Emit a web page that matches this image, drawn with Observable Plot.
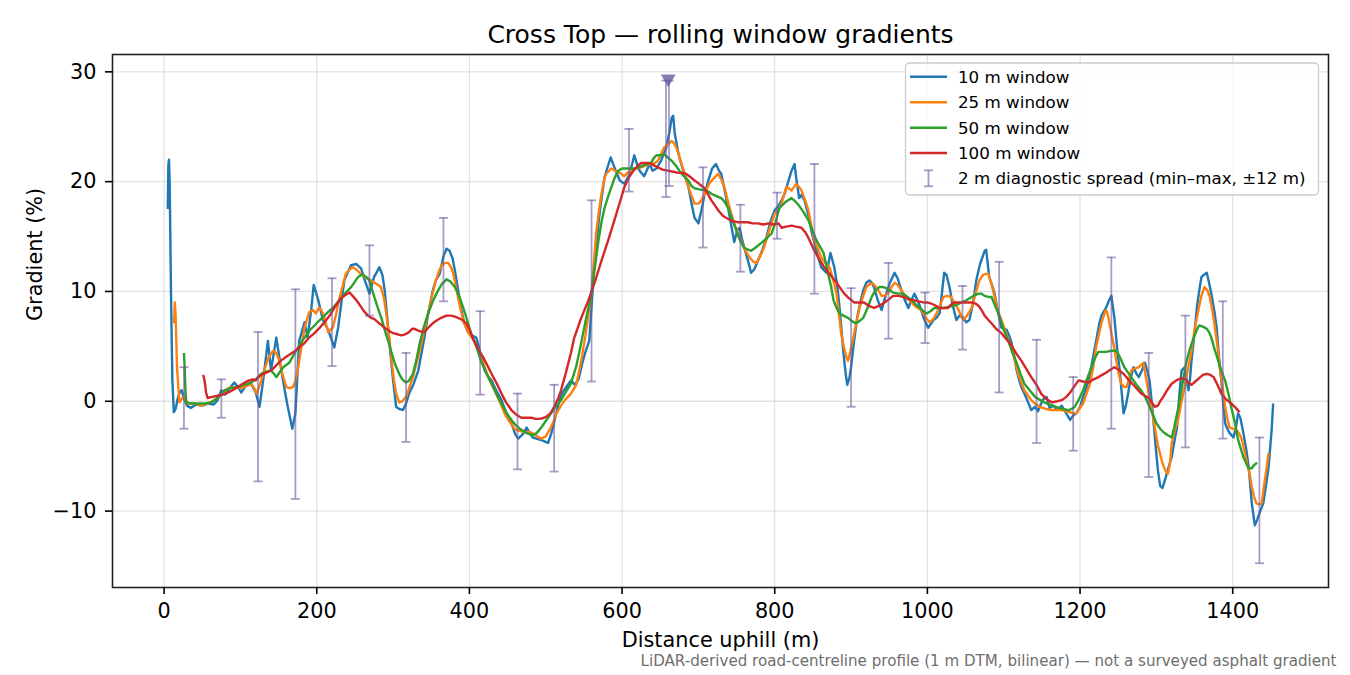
<!DOCTYPE html>
<html>
<head>
<meta charset="utf-8">
<script src="https://cdn.jsdelivr.net/npm/d3@7"></script>
<script src="https://cdn.jsdelivr.net/npm/@observablehq/plot@0.6"></script>
<style>
  html, body { margin: 0; padding: 0; background: white; }
  #chart svg { display: block; }
</style>
</head>
<body>
<div id="chart"></div>
<script>
// ---- data: [distance (m), gradient (%)] ----
const win10 = [[4.8,17.5],[5.6,21.5],[6.4,22.0],[7.4,19.5],[9,10],[10.8,2],[12.7,-1.0],[15,-0.7],[18,0.3],[21,0.9],[23,1.0],[26,0.3],[30,-0.4],[35,-0.6],[42,-0.3],[50,-0.4],[58,-0.2],[65,-0.3],[70,0.1],[75,1.0],[80,0.6],[86,1.2],[92,1.7],[97,1.3],[101,0.8],[107,1.4],[114,1.6],[120,0.8],[125,-0.5],[130,2.0],[136,5.5],[140,2.8],[147,5.8],[153,3.1],[158,1.0],[162,-0.5],[168,-2.5],[172,-1.1],[177,5.5],[184,7.2],[188,5.8],[193,8.5],[196,10.6],[202,9.2],[208,7.4],[215,6.5],[220,5.5],[223,4.9],[228,6.7],[236,11.0],[245,12.4],[252,12.5],[258,12.1],[263,11.0],[269,9.8],[275,11.3],[282,12.2],[286,11.5],[289,10.1],[293,7.1],[297,4.0],[300,1.9],[304,-0.5],[308,-0.7],[313,-0.8],[317,-0.2],[321,0.7],[327,1.6],[333,2.8],[341,5.8],[346,8.0],[352,10.1],[356,11.0],[361,11.6],[366,13.2],[370,13.9],[374,13.7],[378,13.0],[381,11.9],[385,10.2],[389,8.5],[393,7.2],[398,6.3],[403,6.0],[409,5.8],[414,4.5],[420,2.8],[425,2.2],[429,1.9],[435,1.0],[442,0.1],[448,-1.0],[455,-2.0],[460,-3.0],[464,-3.4],[470,-3.0],[475,-2.4],[479,-2.9],[483,-3.3],[488,-3.4],[492,-3.5],[497,-3.6],[503,-3.8],[507,-3.0],[510,-2.2],[514,-1.0],[518,0.1],[522,0.8],[527,1.3],[533,1.9],[538,1.5],[543,2.0],[548,3.5],[552,4.5],[557,5.5],[564,12.8],[571,17.4],[577,20.4],[585,22.2],[590,21.3],[597,20.1],[603,19.8],[610,20.7],[616,22.4],[620,21.5],[623,21.0],[629,20.5],[636,21.6],[640,21.0],[645,21.2],[651,21.9],[658,23.1],[662,24.5],[665,25.8],[667,26.0],[669,24.4],[674,22.5],[680,21.0],[687,19.5],[691,18.0],[695,16.7],[700,16.2],[704,17.4],[708,18.8],[713,20.1],[718,21.2],[723,21.6],[727,21.0],[730,20.7],[735,19.0],[739,17.6],[743,16.0],[747,14.5],[751,15.6],[754,15.8],[757,14.8],[760,14.0],[765,12.8],[769,11.7],[773,12.0],[778,12.8],[784,13.8],[789,14.9],[795,16.5],[800,17.4],[805,17.8],[809,18.3],[813,18.9],[819,20.3],[822,21.0],[826,21.6],[828,20.4],[832,18.5],[835,18.8],[839,18.3],[845,16.7],[848,15.5],[852,14.4],[856,13.3],[861,12.2],[868,11.7],[873,13.5],[875,13.0],[878,12.2],[882,10.5],[885,8.5],[890,4.4],[893,2.5],[895,1.5],[898,2.2],[900,3.1],[904,5.5],[908,7.6],[912,9.0],[916,10.1],[920,10.8],[924,11.0],[927,10.8],[930,10.4],[935,9.2],[940,8.3],[946,9.8],[951,10.8],[957,11.7],[961,11.2],[966,10.1],[970,9.3],[975,8.5],[979,9.2],[983,9.8],[987,9.2],[990,8.7],[995,7.6],[1001,6.7],[1008,7.4],[1012,7.6],[1016,8.0],[1019,9.8],[1022,11.7],[1025,11.5],[1029,10.4],[1033,8.8],[1038,7.4],[1042,7.8],[1047,7.6],[1051,7.2],[1055,7.4],[1060,9.0],[1064,11.0],[1069,12.5],[1075,13.7],[1077,13.8],[1081,11.3],[1085,10.5],[1088,9.8],[1093,8.0],[1097,6.7],[1104,6.5],[1107,6.0],[1110,5.4],[1114,4.0],[1117,2.8],[1120,2.0],[1123,1.3],[1127,0.7],[1132,-0.1],[1136,-0.8],[1141,-0.5],[1145,-0.9],[1149,-0.2],[1152,0.2],[1156,0.4],[1160,-0.6],[1165,-0.4],[1170,-0.8],[1176,-0.4],[1181,-1.0],[1187,-1.7],[1191,-1.3],[1195,-1.1],[1200,-0.5],[1204,0.4],[1209,1.4],[1213,2.5],[1217,4.0],[1221,5.5],[1225,7.0],[1228,7.8],[1234,8.5],[1238,9.2],[1241,9.6],[1245,7.6],[1249,4.5],[1252,2.8],[1257,-1.1],[1260,-0.4],[1263,0.7],[1266,2.0],[1270,3.1],[1274,2.5],[1277,2.2],[1281,2.8],[1285,3.5],[1288,2.8],[1291,1.9],[1295,-0.8],[1298,-3.3],[1302,-6.3],[1305,-7.7],[1308,-7.9],[1312,-7.0],[1316,-6.0],[1320,-5.1],[1324,-3.5],[1327,-2.4],[1330,0.5],[1333,2.8],[1337,3.1],[1340,1.8],[1342,1.0],[1344,2.0],[1346,3.7],[1350,6.2],[1353,8.5],[1356,10.0],[1359,11.3],[1362,11.5],[1366,11.7],[1369,10.8],[1372,9.8],[1376,8.2],[1379,6.7],[1382,4.0],[1385,1.9],[1388,-0.5],[1390,-2.0],[1393,-2.5],[1396,-2.9],[1401,-3.3],[1404,-2.5],[1407,-1.1],[1410,-1.5],[1414,-2.9],[1418,-4.5],[1421,-6.0],[1425,-9.3],[1429,-11.3],[1432,-10.8],[1435,-10.2],[1440,-9.3],[1444,-7.5],[1447,-6.0],[1451,-2.6],[1453,-0.2]];

const win25 = [[13,7.1],[14,9.0],[15,8.0],[17,3],[20,-0.1],[25,0.4],[31,-0.2],[40,-0.2],[48,-0.4],[57,-0.2],[66,0.1],[75,0.6],[84,1.2],[92,1.3],[101,1.2],[108,1.4],[114,1.6],[118,1.2],[121,0.7],[126,1.6],[131,2.8],[137,4.0],[143,4.6],[147,4.4],[151,3.7],[155,2.5],[160,1.3],[165,1.2],[169,1.3],[172,1.8],[175,2.8],[180,5.0],[184,6.7],[190,8.1],[195,8.3],[199,8.0],[203,8.5],[206,8.3],[210,7.6],[215,6.3],[221,6.7],[225,7.8],[229,9.2],[234,10.5],[238,11.6],[243,12.0],[247,12.2],[252,12.0],[256,11.7],[261,11.4],[266,11.2],[271,11.0],[278,10.7],[284,10.4],[288,9.4],[291,8.0],[295,5.8],[298,3.7],[301,2.0],[304,0.7],[308,-0.1],[312,0.0],[317,0.4],[321,1.2],[326,2.2],[330,3.3],[335,4.6],[340,6.2],[346,8.0],[351,9.6],[356,11.0],[361,12.0],[365,12.5],[369,12.6],[372,12.6],[376,12.2],[379,11.6],[382,10.6],[385,9.5],[389,8.2],[393,7.1],[399,6.2],[406,5.5],[413,4.4],[420,3.1],[426,2.0],[433,1.0],[440,-0.1],[446,-1.1],[452,-1.8],[459,-2.5],[465,-2.7],[472,-2.8],[478,-2.8],[483,-2.9],[489,-3.2],[494,-3.4],[500,-3.2],[505,-2.6],[510,-1.9],[514,-1.1],[520,-0.4],[525,0.1],[533,0.7],[540,1.5],[546,3.5],[552,6.0],[556,8.0],[560,9.8],[563,12.5],[566,15.3],[570,17.5],[573,18.9],[576,20.0],[579,20.7],[586,21.2],[591,21.0],[597,20.8],[603,20.5],[607,20.8],[612,21.0],[618,21.2],[625,21.3],[632,21.5],[638,21.6],[643,21.7],[647,21.9],[651,22.5],[655,23.1],[660,23.4],[665,23.7],[668,23.5],[671,23.1],[675,22.3],[678,21.6],[683,20.5],[687,19.5],[691,18.7],[695,18.0],[700,18.0],[704,18.3],[709,19.0],[714,19.8],[720,20.3],[726,20.7],[730,20.2],[734,19.5],[738,18.4],[743,17.1],[749,15.8],[756,14.6],[761,13.8],[767,13.1],[772,12.7],[776,12.6],[781,13.2],[786,14.0],[793,15.6],[800,17.1],[805,17.4],[809,18.0],[815,19.5],[818,19.4],[822,19.2],[825,19.5],[828,19.8],[832,19.5],[835,19.2],[840,18.3],[844,17.4],[848,16.0],[852,14.6],[857,13.8],[861,13.1],[866,12.6],[872,12.2],[876,11.2],[881,9.8],[884,8.0],[887,6.2],[891,4.8],[894,4.0],[896,3.7],[899,4.5],[903,5.8],[907,7.2],[911,8.5],[916,9.6],[920,10.4],[925,10.7],[929,10.7],[935,10.2],[940,9.6],[944,9.6],[949,9.9],[953,10.4],[957,10.8],[961,10.6],[966,10.1],[972,9.5],[979,9.0],[985,8.6],[992,8.3],[998,7.6],[1003,7.2],[1008,7.5],[1012,8.0],[1017,8.8],[1021,9.5],[1026,9.6],[1031,9.5],[1036,8.9],[1041,8.3],[1047,7.4],[1052,7.8],[1058,8.5],[1063,9.8],[1068,11.0],[1073,11.5],[1077,11.6],[1080,11.6],[1084,10.7],[1088,9.5],[1092,8.3],[1097,7.4],[1103,6.2],[1110,4.9],[1115,3.6],[1119,2.5],[1123,1.7],[1127,1.0],[1132,0.5],[1136,0.1],[1141,-0.2],[1147,-0.5],[1155,-0.7],[1163,-0.8],[1170,-0.8],[1176,-0.8],[1182,-0.9],[1187,-1.0],[1191,-1.1],[1195,-1.1],[1199,-0.7],[1204,-0.2],[1208,0.6],[1213,1.6],[1217,3.0],[1221,4.9],[1225,6.2],[1228,7.1],[1231,7.8],[1234,8.3],[1236,8.0],[1238,7.3],[1241,6.2],[1245,4.8],[1248,3.5],[1251,2.4],[1254,1.6],[1258,1.3],[1261,1.3],[1264,2.0],[1267,2.8],[1272,3.0],[1277,3.1],[1280,3.3],[1283,3.5],[1286,2.3],[1290,0.7],[1294,-0.8],[1298,-2.4],[1302,-4.0],[1307,-5.4],[1310,-6.0],[1313,-6.5],[1315,-6.6],[1318,-5.6],[1320,-3.8],[1324,-2.7],[1329,-1.5],[1333,0.0],[1337,1.3],[1341,2.8],[1346,4.6],[1350,6.5],[1355,8.3],[1359,9.6],[1363,10.4],[1367,10.1],[1370,9.5],[1373,8.4],[1376,7.1],[1380,5.0],[1383,3.1],[1387,1.2],[1390,-0.5],[1393,-1.6],[1396,-2.4],[1400,-2.5],[1405,-2.6],[1409,-3.0],[1412,-3.5],[1415,-4.4],[1418,-5.4],[1422,-6.6],[1425,-7.8],[1428,-8.7],[1431,-9.3],[1435,-9.4],[1438,-9.3],[1442,-7.2],[1445,-5.8],[1447,-4.7]];

const win50 = [[26,4.4],[27,3.0],[28,1.0],[29,-0.1],[35,-0.2],[44,-0.2],[53,-0.2],[62,-0.1],[70,0.3],[79,1.0],[88,1.2],[97,1.3],[105,1.5],[114,1.7],[120,2.0],[127,2.5],[134,2.7],[140,2.8],[144,2.5],[147,2.2],[151,2.6],[156,3.1],[160,3.3],[164,3.5],[168,4.0],[173,4.6],[179,5.3],[184,5.8],[190,6.4],[197,6.9],[204,7.4],[210,7.8],[216,8.2],[221,8.5],[227,9.0],[232,9.4],[238,9.9],[245,10.4],[250,10.9],[254,11.3],[258,11.5],[261,11.5],[265,11.3],[269,11.0],[274,9.8],[280,8.5],[285,7.5],[289,6.5],[294,5.4],[298,4.4],[303,3.3],[308,2.5],[312,2.0],[317,1.7],[321,1.9],[326,2.5],[330,3.6],[335,5.3],[340,6.7],[346,8.0],[352,9.1],[359,10.1],[364,10.7],[370,11.1],[375,10.9],[381,10.4],[387,9.5],[392,8.5],[397,7.4],[402,6.2],[409,5.0],[415,3.7],[422,2.6],[429,1.6],[435,0.7],[442,-0.2],[448,-1.0],[455,-1.7],[461,-2.2],[468,-2.6],[475,-2.9],[483,-3.1],[488,-2.9],[494,-2.4],[500,-1.8],[507,-1.1],[513,-0.5],[520,0.1],[526,0.8],[533,1.6],[540,3.2],[547,5.5],[553,7.6],[560,9.8],[564,12.0],[569,14.6],[573,16.3],[577,17.6],[582,18.7],[586,19.5],[590,20.3],[595,21.0],[600,21.2],[606,21.2],[611,21.2],[616,21.2],[622,21.3],[629,21.5],[634,21.6],[638,21.7],[641,22.1],[645,22.4],[650,22.4],[655,22.5],[660,22.2],[665,21.9],[670,21.5],[675,21.0],[681,20.5],[687,20.1],[691,19.6],[695,19.4],[701,19.3],[708,19.2],[713,19.1],[717,18.9],[723,18.7],[730,18.5],[734,18.2],[739,17.6],[744,16.6],[750,15.5],[755,14.6],[760,14.0],[765,13.8],[769,13.7],[775,14.0],[782,14.4],[789,14.8],[796,15.3],[801,16.3],[806,17.6],[809,17.8],[815,18.2],[822,18.5],[827,18.2],[832,17.8],[838,17.2],[844,16.5],[849,15.6],[855,14.6],[860,14.0],[864,13.5],[867,12.6],[870,11.6],[874,10.4],[877,9.2],[881,8.5],[885,8.0],[890,7.8],[896,7.6],[901,7.3],[906,7.1],[911,7.3],[916,7.6],[921,8.4],[927,9.5],[932,10.1],[937,10.4],[942,10.4],[946,10.3],[951,10.1],[955,9.9],[962,9.8],[968,9.8],[974,9.5],[979,9.2],[985,8.8],[990,8.5],[995,8.2],[999,8.0],[1004,8.2],[1009,8.5],[1015,8.5],[1022,8.5],[1028,8.6],[1034,8.7],[1039,8.8],[1044,9.0],[1051,9.2],[1058,9.5],[1063,9.7],[1068,9.8],[1071,9.8],[1075,9.6],[1080,9.5],[1084,9.5],[1090,8.5],[1095,7.6],[1100,6.5],[1106,5.5],[1111,4.5],[1117,3.5],[1122,2.5],[1127,1.6],[1134,1.0],[1141,0.4],[1148,0.1],[1156,-0.2],[1164,-0.4],[1172,-0.6],[1178,-0.7],[1185,-0.8],[1189,-0.7],[1193,-0.5],[1198,0.1],[1204,1.0],[1209,2.0],[1215,3.1],[1220,4.0],[1224,4.5],[1229,4.5],[1234,4.5],[1241,4.6],[1248,4.6],[1253,3.9],[1258,3.1],[1264,2.5],[1270,1.9],[1275,1.4],[1280,1.0],[1286,0.3],[1291,-0.5],[1296,-1.3],[1300,-2.0],[1305,-2.5],[1309,-2.8],[1315,-3.1],[1320,-3.3],[1323,-2.5],[1326,-1.5],[1329,-0.5],[1334,1.5],[1339,3.5],[1344,4.8],[1349,5.8],[1353,6.5],[1356,6.9],[1361,6.8],[1366,6.6],[1369,6.3],[1372,5.8],[1376,4.8],[1381,3.7],[1385,2.8],[1390,1.9],[1394,0.8],[1398,-0.5],[1403,-2.0],[1407,-3.5],[1411,-4.4],[1414,-5.1],[1418,-5.7],[1421,-6.1],[1425,-6.1],[1428,-5.8],[1432,-5.6]];

const win100 = [[51,2.4],[52,2.2],[53,1.9],[55,0.8],[57,0.3],[63,0.4],[70,0.5],[77,0.6],[84,0.8],[92,1.1],[101,1.5],[108,1.8],[116,2.0],[120,1.9],[124,2.2],[127,2.4],[134,2.6],[140,2.8],[146,3.2],[153,3.7],[161,4.1],[170,4.5],[177,4.9],[184,5.3],[190,5.8],[197,6.2],[204,6.7],[210,7.2],[217,7.8],[223,8.5],[228,9.0],[232,9.4],[238,9.7],[243,9.9],[247,9.6],[252,9.2],[258,8.6],[262,8.2],[267,7.8],[271,7.6],[275,7.5],[282,7.1],[289,6.7],[295,6.4],[300,6.2],[306,6.1],[311,6.0],[316,6.1],[321,6.3],[325,6.6],[328,6.6],[334,6.4],[341,6.3],[346,6.7],[352,7.1],[358,7.4],[363,7.6],[370,7.8],[376,7.8],[381,7.7],[385,7.6],[391,7.4],[396,7.1],[401,6.4],[406,5.5],[412,4.7],[418,4.0],[424,3.2],[429,2.5],[436,1.6],[442,0.7],[448,-0.1],[455,-0.8],[461,-1.2],[468,-1.5],[475,-1.5],[481,-1.5],[487,-1.6],[492,-1.6],[498,-1.5],[503,-1.3],[507,-1.0],[511,-0.5],[516,0.2],[520,1.0],[526,2.5],[533,4.4],[537,5.7],[546,7.5],[556,9.2],[565,11.0],[573,12.8],[582,14.7],[590,16.5],[597,18.1],[603,19.5],[609,20.4],[615,21.0],[620,21.4],[625,21.7],[630,21.7],[636,21.7],[641,21.5],[647,21.3],[653,21.1],[660,21.0],[667,20.9],[674,20.8],[680,20.8],[684,20.7],[690,20.4],[695,20.1],[701,19.8],[708,19.4],[713,18.8],[717,18.3],[722,17.8],[726,17.4],[732,16.9],[739,16.6],[745,16.4],[752,16.3],[758,16.3],[765,16.3],[771,16.2],[778,16.2],[785,16.1],[792,16.2],[798,16.1],[805,16.2],[809,15.8],[815,15.9],[822,16.0],[828,15.9],[835,15.8],[840,15.4],[844,14.9],[848,14.3],[852,13.7],[858,13.0],[865,12.2],[872,11.6],[881,10.8],[886,10.3],[891,9.8],[897,9.4],[904,9.0],[910,9.0],[917,9.0],[923,8.7],[930,8.5],[937,8.7],[944,9.0],[950,9.3],[955,9.6],[962,9.6],[968,9.5],[975,9.3],[982,9.2],[988,9.1],[995,9.0],[1000,9.0],[1005,8.9],[1011,8.7],[1016,8.5],[1022,8.5],[1027,8.5],[1031,8.8],[1035,9.0],[1041,9.0],[1047,9.0],[1052,9.0],[1058,9.0],[1063,8.9],[1067,8.7],[1071,8.3],[1075,7.8],[1080,7.4],[1084,7.1],[1090,6.6],[1097,6.2],[1103,5.7],[1110,5.1],[1116,4.4],[1123,3.7],[1130,2.9],[1136,2.2],[1143,1.5],[1149,0.7],[1156,0.2],[1163,-0.1],[1170,0.0],[1176,0.1],[1182,0.4],[1187,0.8],[1193,1.4],[1198,1.9],[1204,1.8],[1211,1.7],[1218,2.0],[1224,2.2],[1229,2.4],[1234,2.6],[1240,2.9],[1245,3.1],[1250,2.9],[1257,2.5],[1263,2.0],[1270,1.5],[1275,1.1],[1280,0.7],[1285,0.5],[1290,0.3],[1294,-0.1],[1298,-0.5],[1302,-0.4],[1305,0.0],[1309,0.4],[1314,1.0],[1320,1.6],[1326,1.9],[1333,2.1],[1338,2.0],[1342,1.7],[1346,1.5],[1351,1.8],[1356,2.1],[1361,2.4],[1366,2.5],[1371,2.4],[1375,2.2],[1380,1.5],[1385,0.7],[1391,0.2],[1398,-0.2],[1404,-0.6],[1409,-1.0]];

// 2 m diagnostic spread: [distance, min, max]
const spread = [[26,-2.5,3.1],[75,-1.5,2.0],[123,-7.3,6.3],[172,-8.9,10.2],[220,3.2,11.2],[269,7.8,14.2],[317,-3.7,4.4],[366,9.1,16.7],[414,0.6,8.2],[463,-6.2,0.7],[511,-6.4,1.5],[560,1.8,18.3],[609,19.1,24.8],[657.5,18.6,29.2],[661.5,19.6,29.2],[706,14.0,21.3],[755,11.8,17.9],[803,14.8,19.0],[852,9.8,21.6],[900,-0.5,10.3],[949,5.7,12.6],[997,5.3,9.9],[1046,4.7,10.5],[1094,0.8,12.7],[1143,-3.8,5.6],[1191,-4.5,2.2],[1241,-2.5,13.1],[1290,-6.9,4.4],[1338,-4.2,7.8],[1387,-3.4,9.1],[1435,-14.75,-3.3]];

// peak 2 m gradient marker
const peak = [[660.5,29.38]];

const xTicks = [0,200,400,600,800,1000,1200,1400];
const yTicks = [-10,0,10,20,30];
const seriesNames = ["10 m window","25 m window","50 m window","100 m window"];
const seriesColors = ["#1f77b4","#ff7f0e","#2ca02c","#d62728"];
const spreadLabel = "2 m diagnostic spread (min–max, ±12 m)";
const titleText = "Cross Top — rolling window gradients";
const xLabel = "Distance uphill (m)";
const yLabel = "Gradient (%)";
const noteText = "LiDAR-derived road-centreline profile (1 m DTM, bilinear) — not a surveyed asphalt gradient";

const barColor = "#6c5a9e";
const capSymbol = {
  draw(context, size) {
    const w = Math.sqrt(size / Math.PI);
    context.moveTo(-w, 0);
    context.lineTo(w, 0);
  }
};
const LW = 2.4;
const lineOf = (data, color) => Plot.line(data, {x: d => d[0], y: d => d[1], stroke: color, strokeWidth: LW, strokeLinejoin: "round", strokeLinecap: "butt"});

const chart = Plot.plot({
  width: 1350,
  height: 675,
  marginLeft: 112,
  marginRight: 22,
  marginTop: 54,
  marginBottom: 88,
  style: {fontFamily: "'DejaVu Sans', sans-serif", fontSize: "20.8px", background: "white", color: "#000"},
  x: {domain: [-67.6, 1525.5]},
  y: {domain: [-16.96, 31.58]},
  marks: [
    Plot.gridX({ticks: xTicks, stroke: "#b0b0b0", strokeOpacity: 0.35, strokeWidth: 1.3}),
    Plot.gridY({ticks: yTicks, stroke: "#b0b0b0", strokeOpacity: 0.35, strokeWidth: 1.3}),
    lineOf(win10, seriesColors[0]),
    lineOf(win25, seriesColors[1]),
    lineOf(win50, seriesColors[2]),
    lineOf(win100, seriesColors[3]),
    Plot.ruleX(spread, {x: d => d[0], y1: d => d[1], y2: d => d[2], stroke: barColor, strokeOpacity: 0.6, strokeWidth: 1.8}),
    Plot.dot(spread, {x: d => d[0], y: d => d[1], symbol: capSymbol, r: 4.5, stroke: barColor, strokeOpacity: 0.6, strokeWidth: 1.8, fill: "none"}),
    Plot.dot(spread, {x: d => d[0], y: d => d[2], symbol: capSymbol, r: 4.5, stroke: barColor, strokeOpacity: 0.6, strokeWidth: 1.8, fill: "none"}),
    Plot.dot(peak, {x: d => d[0], y: d => d[1], symbol: "triangle", rotate: 180, r: 5.5, fill: barColor, fillOpacity: 0.8, stroke: "none"}),
    Plot.frame({stroke: "#222", strokeWidth: 1.6}),
    Plot.axisX({ticks: xTicks, tickSize: 7, tickPadding: 9, tickFormat: d => d3.format("d")(d), label: null, fontSize: 20.8, strokeWidth: 1.6}),
    Plot.axisY({ticks: yTicks, tickSize: 7, tickPadding: 9, tickFormat: d => d < 0 ? "\u2212" + Math.abs(d) : String(d), label: null, fontSize: 20.8, strokeWidth: 1.6}),
    Plot.text([xLabel], {text: d => d, frameAnchor: "bottom", lineAnchor: "bottom", dy: 59, fontSize: 20.8}),
    Plot.text([yLabel], {text: d => d, frameAnchor: "left", lineAnchor: "middle", rotate: -90, dx: -77, fontSize: 20.8}),
    Plot.text([titleText], {text: d => d, frameAnchor: "top", lineAnchor: "bottom", dy: -12, fontSize: 25}),
    Plot.text([noteText], {text: d => d, frameAnchor: "bottom-right", textAnchor: "end", lineAnchor: "bottom", dx: 8, dy: 78, fontSize: 15.1, fill: "#6e6e6e"})
  ]
});

// ---- legend (matplotlib-style box, upper right) ----
const svg = d3.select(chart);
const lg = svg.append("g").attr("font-family", "'DejaVu Sans', sans-serif").attr("font-size", "16.7px").attr("text-anchor", "start");
lg.append("rect").attr("x", 905.5).attr("y", 63).attr("width", 413).attr("height", 132).attr("rx", 4)
  .attr("fill", "white").attr("fill-opacity", 0.8).attr("stroke", "#cccccc").attr("stroke-width", 1.3);
const rowY = [76.7, 102.3, 127.7, 153, 178.3];
seriesNames.forEach((name, i) => {
  lg.append("line").attr("x1", 910).attr("x2", 947).attr("y1", rowY[i]).attr("y2", rowY[i])
    .attr("stroke", seriesColors[i]).attr("stroke-width", LW);
  lg.append("text").attr("x", 958).attr("y", rowY[i]).attr("dy", "0.35em").attr("text-anchor", "start").text(name);
});
const ey = rowY[4];
const eg = lg.append("g").attr("stroke", barColor).attr("stroke-opacity", 0.6).attr("stroke-width", 1.8);
eg.append("line").attr("x1", 928.5).attr("x2", 928.5).attr("y1", ey - 8).attr("y2", ey + 8);
eg.append("line").attr("x1", 924).attr("x2", 933).attr("y1", ey - 8).attr("y2", ey - 8);
eg.append("line").attr("x1", 924).attr("x2", 933).attr("y1", ey + 8).attr("y2", ey + 8);
lg.append("text").attr("x", 958).attr("y", ey).attr("dy", "0.35em").attr("text-anchor", "start").text(spreadLabel);

document.getElementById("chart").appendChild(chart);
</script>
</body>
</html>
